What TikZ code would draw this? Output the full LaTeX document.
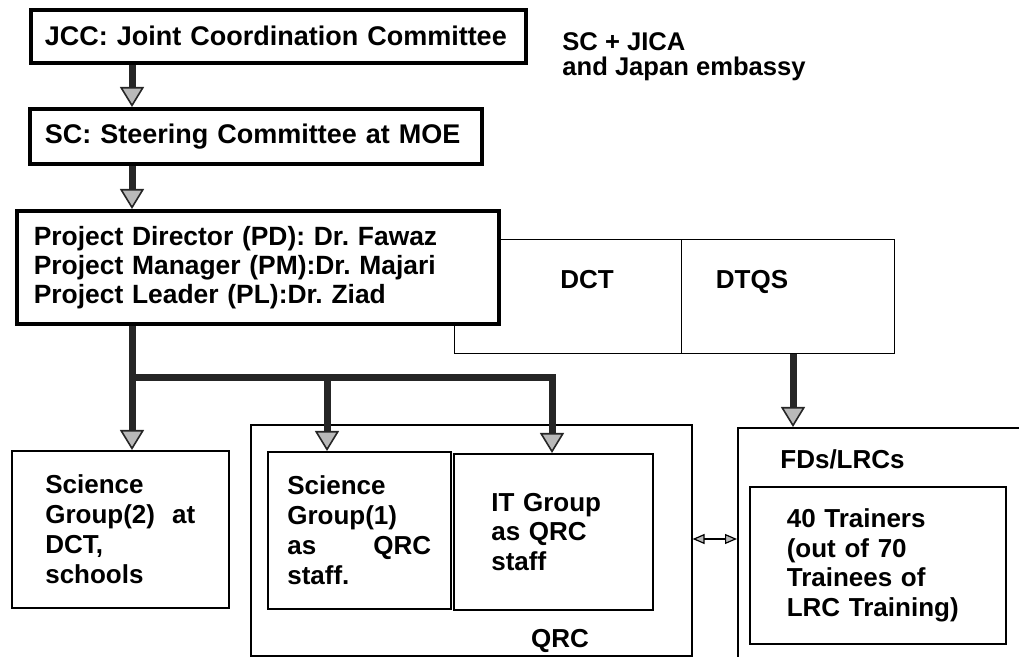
\documentclass[tikz,border=0pt]{standalone}
\usepackage{fontspec}
\setmainfont{Liberation Sans}
\usetikzlibrary{arrows.meta}
\frenchspacing

\begin{document}
\begin{tikzpicture}[x=0.5pt,y=-0.5pt,
  box/.style={draw,line width=0.8pt,anchor=north west,align=left,inner sep=0pt,
    font=\fontsize{13}{14.7}\selectfont\bfseries},
  bigbox/.style={box,line width=1.8pt,fill=white},
  lbl/.style={inner sep=0pt,font=\fontsize{13}{14.7}\selectfont\bfseries},
  flow/.style={line width=3.5pt,black!85,
    -{Triangle[width=12pt,length=10pt,fill=gray!55,line width=0.8pt]}},
  pair/.style={line width=1.2pt,
    {Triangle[width=5pt,length=6pt,fill=gray!55,line width=0.6pt]}-{Triangle[width=5pt,length=6pt,fill=gray!55,line width=0.6pt]}}]
\useasboundingbox (0,0) rectangle (1019,657);
\clip (0,0) rectangle (1019,657);

\draw (29,8) node[bigbox,minimum width=247.5pt,minimum height=26.5pt,text width=233.5pt,font=\fontsize{13.5}{15}\selectfont\bfseries](jcc) {JCC: Joint Coordination Committee};
\draw (562,32) node[lbl,anchor=north west,align=left,font=\fontsize{12.8}{12.5}\selectfont\bfseries](members) {SC + JICA\\and Japan embassy};
\draw (28,107) node[bigbox,minimum width=226pt,minimum height=27.5pt,text width=211pt,font=\fontsize{13.5}{15}\selectfont\bfseries](sc) {SC: Steering Committee at MOE};

\draw (454,239) node[box,minimum width=113.5pt,minimum height=57pt,line width=0.7pt](dct) {};
\draw (681,239) node[box,minimum width=106.5pt,minimum height=57pt,line width=0.7pt](dtqs) {};
\draw (587,289) node[lbl,anchor=base](dctname) {DCT};
\draw (752,289) node[lbl,anchor=base](dtqsname) {DTQS};

\draw (15,209) node[bigbox,minimum width=241pt,minimum height=56.5pt,text width=224pt,font=\fontsize{13.2}{14.5}\selectfont\bfseries](pd) {Project Director (PD): Dr. Fawaz\\Project Manager (PM):Dr. Majari\\Project Leader (PL):Dr. Ziad};

\draw (11,450) node[box,minimum width=108.5pt,minimum height=78.5pt,text width=75pt,font=\fontsize{13}{15}\selectfont\bfseries](sg2) {Science\\\makebox[75pt][l]{Group(2)\hfill at}\\DCT,\\schools};
\draw (250,424) node[box,minimum width=220.5pt,minimum height=115.5pt](qrc) {};
\draw (560,641) node[lbl](qrcname) {QRC};
\draw (267,451) node[box,minimum width=91.5pt,minimum height=78.5pt,text width=72pt,font=\fontsize{13}{15}\selectfont\bfseries](sg1) {Science\\Group(1)\\\makebox[72pt][l]{as\hfill QRC}\\staff.};
\draw (453,453) node[box,minimum width=99.5pt,minimum height=78pt,text width=62pt](it) {IT Group\\as QRC\\staff};

\draw (737,427) node[box,minimum width=151.5pt,minimum height=126.5pt](fd) {};
\draw (780,459) node[lbl,anchor=west](fdname) {FDs/LRCs};
\draw (749,486) node[box,minimum width=128pt,minimum height=78.5pt,text width=91pt](trainers) {40 Trainers\\(out of 70\\Trainees of\\LRC Training)};

\coordinate (trunk) at (132,0);
\coordinate (fork) at (132,378);
\coordinate (mid) at (327,378);
\coordinate (corner) at (552,378);
\coordinate (down) at (793,0);
\coordinate (link) at (0,539);
\draw[flow] (jcc.south -| trunk) -- (sc.north -| trunk);
\draw[flow] (sc.south -| trunk) -- (pd.north -| trunk);
\draw[flow] (pd.south -| trunk) -- (sg2.north -| trunk);
\draw[flow] (mid) -- (sg1.north -| mid);
\draw[flow] (fork) -| (it.north -| corner);
\draw[flow] (dtqs.south -| down) -- (fd.north -| down);
\draw[pair] (qrc.east |- link) -- (fd.west |- link);
\end{tikzpicture}
\end{document}
